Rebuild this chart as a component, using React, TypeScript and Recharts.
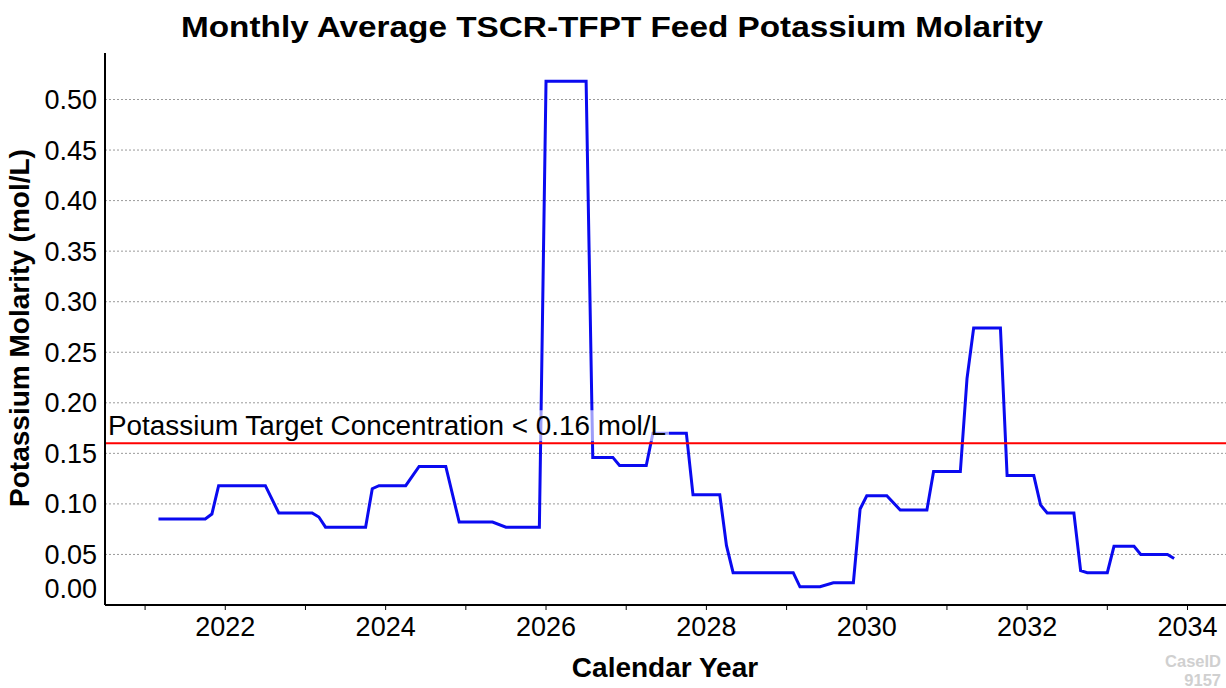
import React from "react";
import { LineChart, Line, XAxis, YAxis, ReferenceLine } from "recharts";

const years = [
  2021.167, 2021.75, 2021.833, 2021.917, 2022.5, 2022.667, 2023.083, 2023.167, 2023.25, 2023.75,
  2023.833, 2023.917, 2024.25, 2024.417, 2024.75, 2024.917, 2025.333, 2025.5, 2025.917, 2026.0,
  2026.5, 2026.583, 2026.833, 2026.917, 2027.25, 2027.333, 2027.75, 2027.833, 2028.167, 2028.25,
  2028.333, 2029.083, 2029.167, 2029.417, 2029.583, 2029.833, 2029.917, 2030.0, 2030.25, 2030.417,
  2030.75, 2030.833, 2031.167, 2031.25, 2031.333, 2031.667, 2031.75, 2032.083, 2032.167, 2032.25,
  2032.583, 2032.667, 2032.75, 2033.0, 2033.083, 2033.333, 2033.417, 2033.75, 2033.833,
];
const molarity = [
  0.085, 0.085, 0.09, 0.118, 0.118, 0.091, 0.091, 0.087, 0.077, 0.077,
  0.115, 0.118, 0.118, 0.137, 0.137, 0.082, 0.082, 0.077, 0.077, 0.518,
  0.518, 0.146, 0.146, 0.138, 0.138, 0.17, 0.17, 0.109, 0.109, 0.059,
  0.032, 0.032, 0.018, 0.018, 0.022, 0.022, 0.095, 0.108, 0.108, 0.094,
  0.094, 0.132, 0.132, 0.224, 0.274, 0.274, 0.128, 0.128, 0.099, 0.091,
  0.091, 0.034, 0.032, 0.032, 0.058, 0.058, 0.05, 0.05, 0.046,
];
const xTicks = [2021, 2022, 2023, 2024, 2025, 2026, 2027, 2028, 2029, 2030, 2031, 2032, 2033, 2034];
const yTicks = [0, 0.05, 0.1, 0.15, 0.2, 0.25, 0.3, 0.35, 0.4, 0.45, 0.5];
const targetValue = 0.16;
const targetLabel = "Potassium Target Concentration < 0.16 mol/L";

const data = years.map((y, i) => ({ year: y, value: molarity[i] }));
const gridValues = yTicks.filter((v) => v > 0);

const FONT = "'Liberation Sans', Arial, sans-serif";

const XTick = (props: any) => {
  const { x, y, payload } = props;
  if (payload.value % 2 !== 0) return <g />;
  return (
    <text x={x} y={y + 26} textAnchor="middle" fontFamily={FONT} fontSize={27} fill="#000">
      {payload.value}
    </text>
  );
};

const YTick = (props: any) => {
  const { x, y, payload } = props;
  const shift = payload.value === 0 ? -17 : 0;
  return (
    <text x={x} y={y + shift + 9.5} textAnchor="end" fontFamily={FONT} fontSize={27} fill="#000">
      {payload.value.toFixed(2)}
    </text>
  );
};

const TargetLabel = (props: any) => {
  const vb = props.viewBox || {};
  const x0 = (vb.x || 0) + 3;
  const yLine = vb.y || 0;
  return (
    <g>
      <rect x={x0 - 1} y={yLine - 33} width={562} height={31} fill="#fff" fillOpacity={0.6} />
      <text x={x0} y={yLine - 8} fontFamily={FONT} fontSize={27} fill="#000" textLength={558} lengthAdjust="spacingAndGlyphs">
        {targetLabel}
      </text>
    </g>
  );
};

export default function App() {
  return (
    <div style={{ position: "absolute", left: 0, top: 0, width: 1226, height: 688, background: "#fff" }}>
      <LineChart width={1226} height={688} data={data} margin={{ top: 53, right: 0, left: 0, bottom: 0 }}>
        <text x={612} y={37} textAnchor="middle" fontFamily={FONT} fontWeight="bold" fontSize={30} fill="#000" textLength={862} lengthAdjust="spacingAndGlyphs">
          Monthly Average TSCR-TFPT Feed Potassium Molarity
        </text>
        <text
          x={29}
          y={328}
          transform="rotate(-90 29 328)"
          textAnchor="middle"
          fontFamily={FONT}
          fontWeight="bold"
          fontSize={28}
          fill="#000"
        >
          Potassium Molarity (mol/L)
        </text>
        <text x={665} y={677} textAnchor="middle" fontFamily={FONT} fontWeight="bold" fontSize={28} fill="#000">
          Calendar Year
        </text>
        <text x={1221} y={667} textAnchor="end" fontFamily={FONT} fontWeight="bold" fontSize={16.5} fill="#d0d0d0">
          CaseID
        </text>
        <text x={1221} y={686} textAnchor="end" fontFamily={FONT} fontWeight="bold" fontSize={16.5} fill="#d0d0d0">
          9157
        </text>
        {gridValues.map((v) => (
          <ReferenceLine key={v} y={v} stroke="#9a9a9a" strokeDasharray="2 2" strokeWidth={1} />
        ))}
        <XAxis
          type="number"
          dataKey="year"
          domain={[2020.5, 2034.48]}
          ticks={xTicks}
          allowDataOverflow
          height={83}
          tick={<XTick />}
          tickSize={5}
          tickMargin={0}
          axisLine={{ stroke: "#000", strokeWidth: 2 }}
          tickLine={{ stroke: "#000", strokeWidth: 1 }}
        />
        <YAxis
          type="number"
          domain={[0, 0.546]}
          ticks={yTicks}
          allowDataOverflow
          width={105}
          tick={<YTick />}
          tickLine={false}
          tickSize={0}
          tickMargin={8}
          axisLine={{ stroke: "#000", strokeWidth: 2 }}
        />
        <Line
          type="linear"
          dataKey="value"
          stroke="#0a0af0"
          strokeWidth={3}
          dot={false}
          isAnimationActive={false}
        />
        <ReferenceLine y={targetValue} stroke="#ff0000" strokeWidth={2} label={<TargetLabel />} />
      </LineChart>
    </div>
  );
}
